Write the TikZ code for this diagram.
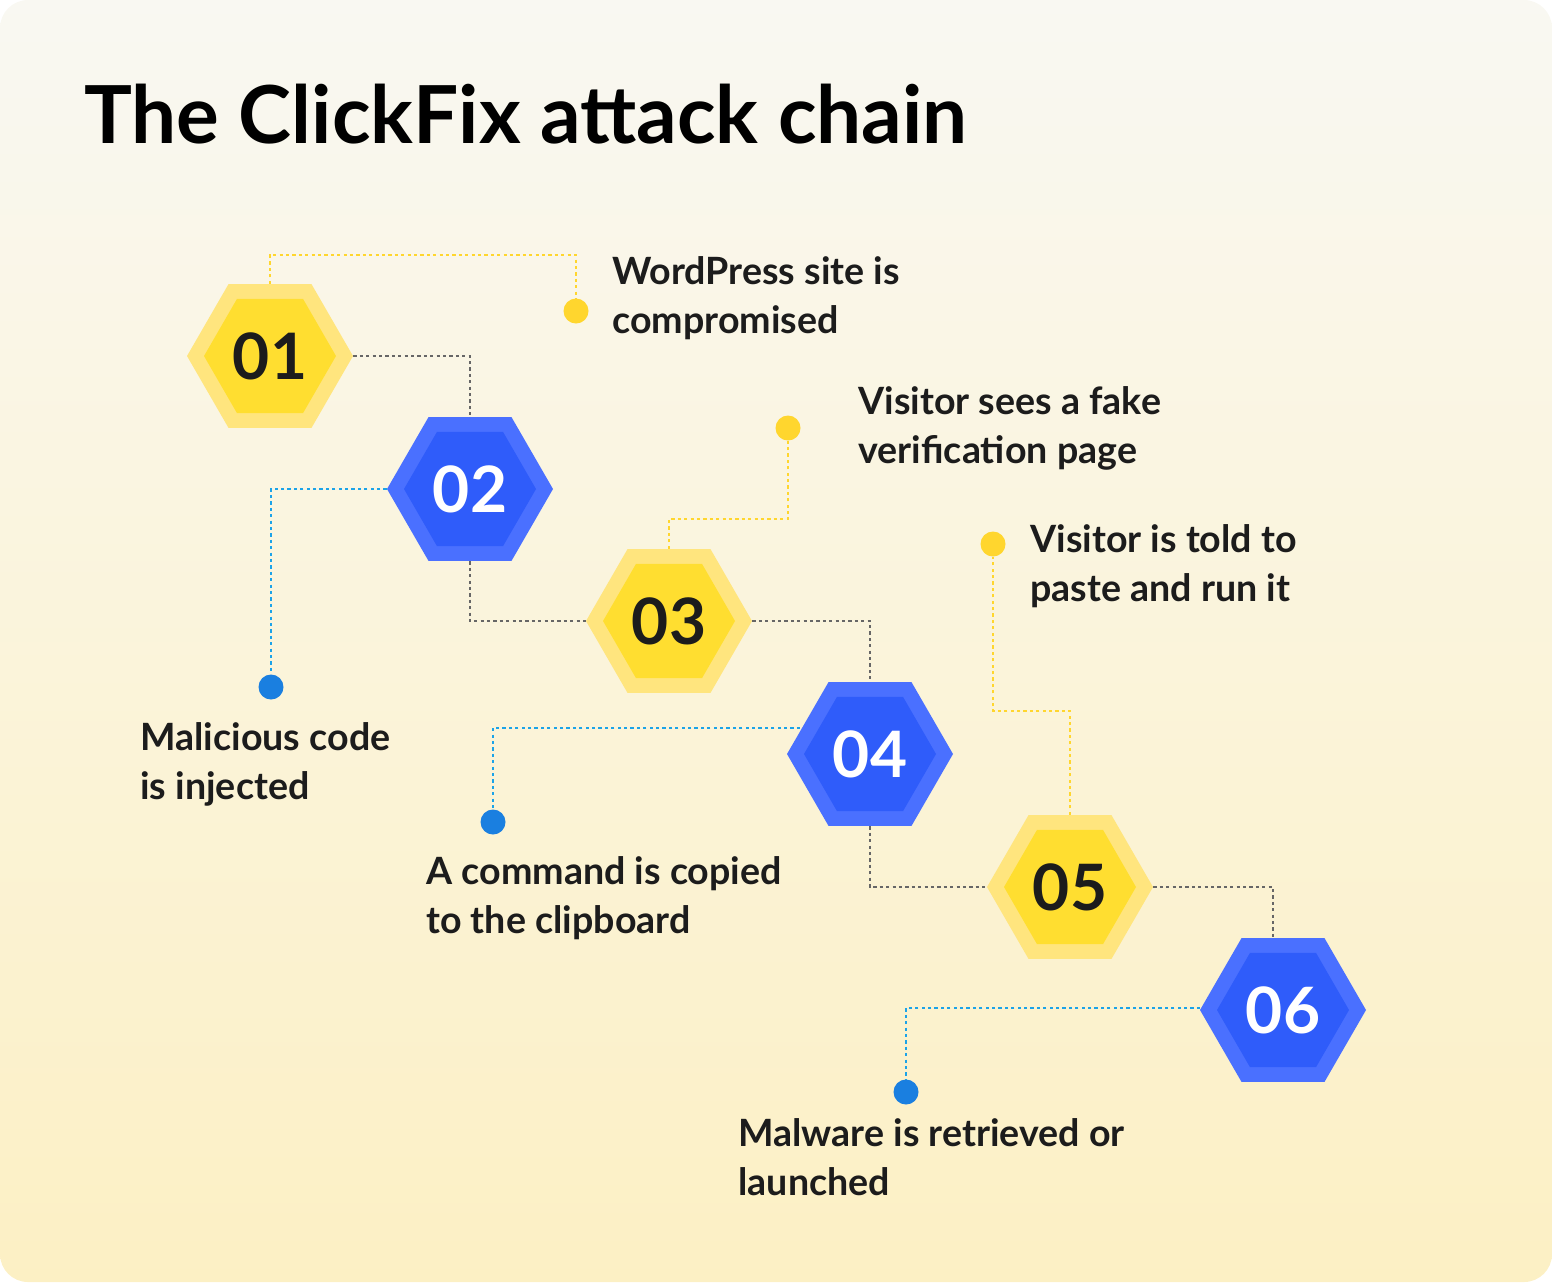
\documentclass[tikz,border=0pt]{standalone}
\usepackage{fontspec}
\setmainfont{Lato}
\usetikzlibrary{shapes.geometric}
\definecolor{yo}{HTML}{FFE57E}\definecolor{yi}{HTML}{FFDE30}
\definecolor{bo}{HTML}{4A70FF}\definecolor{bi}{HTML}{2F5CFA}
\definecolor{yl}{HTML}{FFD62E}\definecolor{bl}{HTML}{1BA3E8}
\definecolor{gl}{HTML}{666666}\definecolor{bd}{HTML}{1A7FE0}
\definecolor{txt}{HTML}{1C1C1C}
\definecolor{bgt}{HTML}{F9F8F2}\definecolor{bgb}{HTML}{FCF0C4}
\tikzset{
 hexo/.style={regular polygon,regular polygon sides=6,minimum size=83pt,inner sep=0},
 ylink/.style={yl,line width=1.4pt,dash pattern=on 1.6pt off 1.6pt},
 blink/.style={bl,line width=1.4pt,dash pattern=on 1.6pt off 1.6pt},
 glink/.style={gl,line width=1.4pt,dash pattern=on 1.6pt off 1.6pt},
 lab/.style={anchor=north west,align=left,font=\fontsize{18.8}{24.5}\selectfont\bfseries,text=txt,inner sep=0},
 num/.style={font=\fontsize{32}{32}\selectfont\bfseries},
 ydot/.style={circle,fill=yl,minimum size=12.5,inner sep=0},
 bdot/.style={circle,fill=bd,minimum size=12.5,inner sep=0}
}
\begin{document}
\begin{tikzpicture}[x=0.5pt,y=-0.5pt]
\useasboundingbox (0,0) rectangle (1552,1282);
\shade[rounded corners=14pt,top color=bgt,bottom color=bgb] (0,0) rectangle (1552,1282);
\node[anchor=base west,inner sep=0,font=\fontsize{40}{40}\selectfont\bfseries,text=black] (title) at (84,143) {The ClickFix attack chain};
\foreach \n/\x/\y/\t in {h1/270/356/y,h2/470/489/b,h3/669/621/y,h4/870/754/b,h5/1070/887/y,h6/1283/1010/b}{
  \node[hexo,fill=\t o] (\n) at (\x,\y) {};
  \node[hexo,minimum size=66pt,fill=\t i] (\n i) at (\x,\y) {};
}
\node[num,text=txt] at (h1) {01};
\node[num,text=white] at (h2) {02};
\node[num,text=txt] at (h3) {03};
\node[num,text=white] at (h4) {04};
\node[num,text=txt] at (h5) {05};
\node[num,text=white] at (h6) {06};
\node[ydot] (d1) at (576,311) {};
\node[bdot] (d2) at (271,687) {};
\node[ydot] (d3) at (788,428) {};
\node[bdot] (d4) at (493,822) {};
\node[ydot] (d5) at (993,544) {};
\node[bdot] (d6) at (906,1092) {};
\coordinate (c1) at (270,255);
\coordinate (c3) at (788,519);
\coordinate (c4) at (800,728);
\coordinate (c5) at (993,711);
\coordinate (c6) at (1273,938);
\coordinate (c7) at (1200,1008);
\draw[ylink] (h1.north) -- (c1) -| (d1);
\draw[glink] (h1.east) -| (h2.north);
\draw[blink] (h2.west) -| (d2);
\draw[glink] (h2.south) |- (h3.west);
\draw[ylink] (h3.north) |- (c3) -- (d3);
\draw[glink] (h3.east) -| (h4.north);
\draw[blink] (c4) -| (d4);
\draw[glink] (h4.south) |- (h5.west);
\draw[ylink] (h5.north) |- (c5) -- (d5);
\draw[glink] (h5.east) -| (c6);
\draw[blink] (c7) -| (d6);
\node[lab] (l1) at (612,256) {WordPress site is\\compromised};
\node[lab] (l2) at (140,722) {Malicious code\\is injected};
\node[lab] (l3) at (858,386) {Visitor sees a fake\\verification page};
\node[lab] (l4) at (426,856) {A command is copied\\to the clipboard};
\node[lab] (l5) at (1030,524) {Visitor is told to\\paste and run it};
\node[lab] (l6) at (738,1118) {Malware is retrieved or\\launched};
\end{tikzpicture}
\end{document}
